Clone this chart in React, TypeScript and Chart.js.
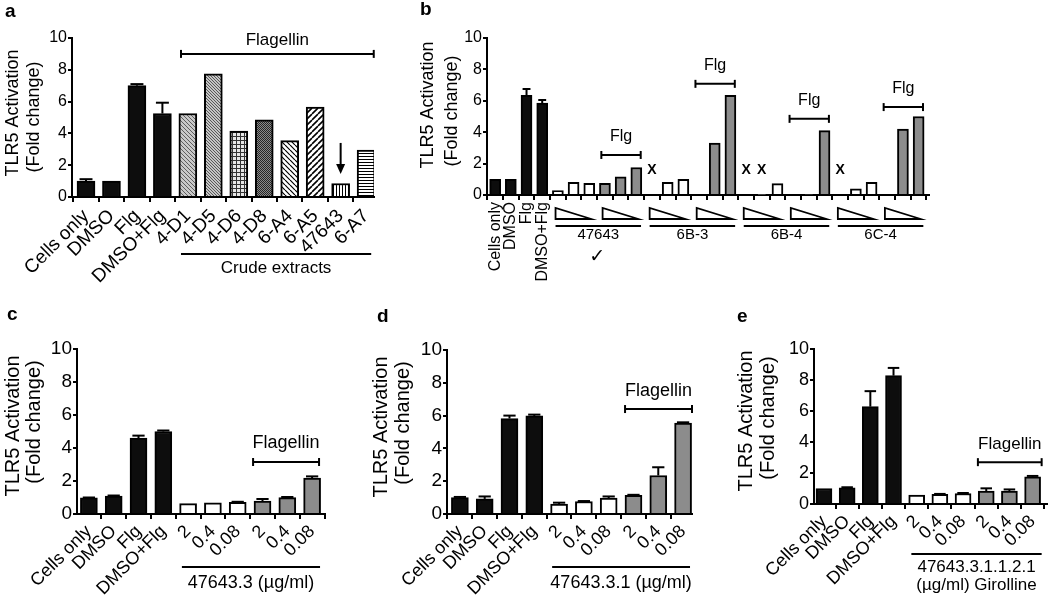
import React, { useEffect, useRef } from 'react';
import { Chart, registerables } from 'chart.js';

Chart.register(...registerables);

const FONT = 'Arial, "Liberation Sans", Helvetica, sans-serif';

// ---------- Panel a ----------
const aLabels = ['Cells only', 'DMSO', 'Flg', 'DMSO+Flg', '4-D1', '4-D5', '4-D6', '4-D8', '6-A4', '6-A5', '47643', '6-A7'];
const aValues = [1.0, 1.0, 7.0, 5.25, 5.25, 7.75, 4.15, 4.85, 3.55, 5.65, 0.85, 2.95];
const aErrors = [0.12, 0, 0.1, 0.68, 0, 0, 0, 0, 0, 0, 0, 0];
const aFills = ['black', 'black', 'black', 'black', 'diagLight', 'diagMed', 'grid', 'darkGrid', 'backslash', 'slash', 'vertical', 'horizontal'];

// ---------- Panel b ----------
const bControlLabels = ['Cells only', 'DMSO', 'Flg', 'DMSO+Flg'];
const bGroupNames = ['47643', '6B-3', '6B-4', '6C-4'];
const bValues = [
  1.0, 1.0, 6.35, 5.85,
  0.28, 0.8, 0.75, 0.75, 1.15, 1.75,
  0, 0.8, 1.0, 0, 3.3, 6.35,
  0, 0.05, 0.72, 0, 0.05, 4.1,
  0, 0.4, 0.8, 0, 4.2, 5.0,
];
const bErrors = [
  0, 0, 0.4, 0.2,
  0, 0, 0, 0, 0, 0,
  0, 0, 0, 0, 0, 0,
  0, 0, 0, 0, 0, 0,
  0, 0, 0, 0, 0, 0,
];
const bMissing = [10, 16, 17, 22];
const bFlgLevels = [2.55, 7.08, 4.85, 5.6];

// ---------- Panels c, d, e ----------
const cdeLabels = ['Cells only', 'DMSO', 'Flg', 'DMSO+Flg', '2', '0.4', '0.08', '2', '0.4', '0.08'];
const cdeFills = ['black', 'black', 'black', 'black', 'white', 'white', 'white', 'grey', 'grey', 'grey'];
const cValues = [0.98, 1.08, 4.6, 5.0, 0.63, 0.67, 0.71, 0.78, 0.99, 2.18];
const cErrors = [0.02, 0.04, 0.15, 0.06, 0, 0, 0.03, 0.13, 0.04, 0.1];
const dValues = [1.0, 0.92, 5.82, 5.98, 0.61, 0.76, 0.97, 1.14, 2.35, 5.54];
const dErrors = [0.04, 0.15, 0.18, 0.08, 0.08, 0.03, 0.1, 0.03, 0.5, 0.05];
const eValues = [1.0, 1.05, 6.28, 8.28, 0.58, 0.62, 0.68, 0.84, 0.84, 1.76];
const eErrors = [0, 0.03, 1.0, 0.5, 0, 0.03, 0.03, 0.17, 0.1, 0.05];

const TITLE_LINES = ['TLR5 Activation', '(Fold change)'];

// ---------- helpers ----------
function tile(size: number, bg: string, draw: (c: CanvasRenderingContext2D, s: number) => void) {
  const t = document.createElement('canvas');
  t.width = size;
  t.height = size;
  const c = t.getContext('2d')!;
  c.fillStyle = bg;
  c.fillRect(0, 0, size, size);
  draw(c, size);
  return c.createPattern(t, 'repeat')!;
}
const diag = (color: string, w: number, back: boolean) => (c: CanvasRenderingContext2D, s: number) => {
  c.strokeStyle = color;
  c.lineWidth = w;
  c.beginPath();
  for (const k of [-s, 0, s]) {
    if (back) {
      c.moveTo(k, 0);
      c.lineTo(k + s, s);
    } else {
      c.moveTo(k, s);
      c.lineTo(k + s, 0);
    }
  }
  c.stroke();
};
function makeFill(kind: string): any {
  switch (kind) {
    case 'black': return '#0d0d0d';
    case 'white': return '#ffffff';
    case 'grey': return '#8c8c8c';
    case 'diagLight': return tile(4, '#c8c8c8', diag('#5e5e5e', 1, true));
    case 'diagMed': return tile(3, '#c4c4c4', diag('#585858', 1, true));
    case 'grid': return tile(4, '#e6e6e6', (c, s) => { c.fillStyle = '#333'; c.fillRect(0, 0, s, 1); c.fillRect(0, 0, 1, s); });
    case 'darkGrid': return tile(2, '#8a8a8a', (c) => { c.fillStyle = '#262626'; c.fillRect(0, 0, 1, 1); c.fillRect(1, 1, 1, 1); });
    case 'backslash': return tile(5, '#ffffff', diag('#000000', 1.2, true));
    case 'slash': return tile(6, '#ffffff', diag('#000000', 1.6, false));
    case 'vertical': return tile(3, '#ffffff', (c, s) => { c.fillStyle = '#000'; c.fillRect(0, 0, 1, s); });
    case 'horizontal': return tile(3, '#ffffff', (c, s) => { c.fillStyle = '#000'; c.fillRect(0, 0, s, 1); });
    default: return '#888';
  }
}

function line(ctx: CanvasRenderingContext2D, x1: number, y1: number, x2: number, y2: number, w = 2) {
  ctx.save();
  ctx.strokeStyle = '#000';
  ctx.lineWidth = w;
  ctx.beginPath();
  ctx.moveTo(x1, y1);
  ctx.lineTo(x2, y2);
  ctx.stroke();
  ctx.restore();
}
function bracket(ctx: CanvasRenderingContext2D, x1: number, x2: number, y: number, cap = 4) {
  line(ctx, x1, y, x2, y);
  line(ctx, x1, y - cap, x1, y + cap);
  line(ctx, x2, y - cap, x2, y + cap);
}
function text(ctx: CanvasRenderingContext2D, str: string, x: number, y: number, size: number, opts: any = {}) {
  ctx.save();
  ctx.fillStyle = '#000';
  ctx.font = `${opts.bold ? 'bold ' : ''}${size}px ${opts.family || FONT}`;
  ctx.textAlign = opts.align || 'center';
  ctx.textBaseline = opts.baseline || 'middle';
  ctx.fillText(str, x, y);
  ctx.restore();
}

type Spec = {
  id: string;
  left: number; top: number; width: number; height: number;
  labels: string[]; values: number[]; errors: number[]; fills: string[];
  xMin: number; xMax: number; barThickness: number;
  padTop: number; padRight: number; yAxisWidth: number; xAxisHeight: number;
  tickSize: number; labelSize: number; rotation: number; labelPad: number;
  titleSize: number; titlePos: { x: number; y: number }[];
  panel: { text: string; x: number; y: number };
  annotate: (ctx: CanvasRenderingContext2D, chart: any) => void;
};

const bLabels = [...bControlLabels, ...bValues.slice(bControlLabels.length).map(() => '')];
const bFills = bValues.map((_, i) => (i < bControlLabels.length ? 'black' : ((i - bControlLabels.length) % 6 < 3 ? 'white' : 'grey')));

const SPECS: Spec[] = [
  {
    id: 'a', left: 0, top: 0, width: 410, height: 300,
    labels: aLabels, values: aValues, errors: aErrors, fills: aFills,
    xMin: -0.55, xMax: 11.31, barThickness: 18,
    padTop: 38, padRight: 36, yAxisWidth: 72, xAxisHeight: 103,
    tickSize: 16, labelSize: 19, rotation: 45, labelPad: 3,
    titleSize: 18, titlePos: [{ x: 13, y: 113 }, { x: 34, y: 117 }],
    panel: { text: 'a', x: 5, y: 17 },
    annotate: (ctx, chart) => {
      const xs = chart.scales.x, ys = chart.scales.y, bot = chart.chartArea.bottom;
      const x1 = xs.getPixelForValue(3.73), x2 = xs.getPixelForValue(11.3);
      bracket(ctx, x1, x2, ys.getPixelForValue(9.0), 4);
      text(ctx, 'Flagellin', (x1 + x2) / 2, ys.getPixelForValue(9.87), 17);
      const u2 = xs.getPixelForValue(11.2);
      line(ctx, x1, bot + 57, u2, bot + 57);
      text(ctx, 'Crude extracts', (x1 + u2) / 2, bot + 71, 17);
      const ax = xs.getPixelForValue(10);
      const tip = ys.getPixelForValue(1.45);
      line(ctx, ax, ys.getPixelForValue(3.4), ax, tip - 6);
      ctx.save();
      ctx.fillStyle = '#000';
      ctx.beginPath();
      ctx.moveTo(ax - 4.5, tip - 10);
      ctx.lineTo(ax + 4.5, tip - 10);
      ctx.lineTo(ax, tip);
      ctx.closePath();
      ctx.fill();
      ctx.restore();
    },
  },
  {
    id: 'b', left: 415, top: 0, width: 525, height: 300,
    labels: bLabels, values: bValues, errors: bErrors, fills: bFills,
    xMin: -0.52, xMax: 27.68, barThickness: 11,
    padTop: 38, padRight: 7, yAxisWidth: 72, xAxisHeight: 105,
    tickSize: 16, labelSize: 16, rotation: 90, labelPad: 2,
    titleSize: 18, titlePos: [{ x: 13, y: 105 }, { x: 37, y: 111 }],
    panel: { text: 'b', x: 5, y: 15 },
    annotate: (ctx, chart) => {
      const xs = chart.scales.x, ys = chart.scales.y, bot = chart.chartArea.bottom;
      const px = (v: number) => xs.getPixelForValue(v);
      bGroupNames.forEach((name, g) => {
        const s0 = bControlLabels.length + g * 6;
        for (let h = 0; h < 2; h++) {
          const s = s0 + 3 * h;
          const t1 = px(s - 0.15), t2 = px(s + 2.13);
          ctx.save();
          ctx.strokeStyle = '#000';
          ctx.lineWidth = 1.8;
          ctx.lineJoin = 'miter';
          ctx.beginPath();
          ctx.moveTo(t1, bot + 13);
          ctx.lineTo(t1, bot + 24);
          ctx.lineTo(t2, bot + 24);
          ctx.closePath();
          ctx.stroke();
          ctx.restore();
        }
        const u1 = px(s0 - 0.15), u2 = px(s0 + 5.3);
        line(ctx, u1, bot + 31, u2, bot + 31);
        text(ctx, name, (u1 + u2) / 2, bot + 40, 15);
        const f1 = px(s0 + 2.77), f2 = px(s0 + 5.28);
        const fy = ys.getPixelForValue(bFlgLevels[g]);
        bracket(ctx, f1, f2, fy, 4);
        text(ctx, 'Flg', (f1 + f2) / 2, fy - 18, 16);
      });
      bMissing.forEach((i) => text(ctx, 'X', px(i), ys.getPixelForValue(1.6), 14, { bold: true }));
      text(ctx, '\u2713', px(bControlLabels.length + 2.5), bot + 62, 19, { family: '"DejaVu Sans", sans-serif' });
    },
  },
  {
    id: 'c', left: 0, top: 300, width: 360, height: 299,
    labels: cdeLabels, values: cValues, errors: cErrors, fills: cdeFills,
    xMin: -0.48, xMax: 9.52, barThickness: 17,
    padTop: 49, padRight: 35, yAxisWidth: 77, xAxisHeight: 85,
    tickSize: 19, labelSize: 18, rotation: 45, labelPad: 2,
    titleSize: 20, titlePos: [{ x: 13.5, y: 126 }, { x: 34.5, y: 122 }],
    panel: { text: 'c', x: 7, y: 20 },
    annotate: (ctx, chart) => {
      const xs = chart.scales.x, ys = chart.scales.y, bot = chart.chartArea.bottom;
      const x1 = xs.getPixelForValue(6.62), x2 = xs.getPixelForValue(9.28);
      bracket(ctx, x1, x2, ys.getPixelForValue(3.15), 4);
      text(ctx, 'Flagellin', (x1 + x2) / 2, ys.getPixelForValue(4.3), 18);
      const u1 = xs.getPixelForValue(3.75), u2 = xs.getPixelForValue(9.32);
      line(ctx, u1, bot + 53, u2, bot + 53);
      text(ctx, '47643.3 (\u00b5g/ml)', (u1 + u2) / 2, bot + 69, 18);
    },
  },
  {
    id: 'd', left: 360, top: 300, width: 360, height: 299,
    labels: cdeLabels, values: dValues, errors: dErrors, fills: cdeFills,
    xMin: -0.52, xMax: 9.36, barThickness: 17,
    padTop: 50, padRight: 28, yAxisWidth: 87, xAxisHeight: 85,
    tickSize: 19, labelSize: 18, rotation: 45, labelPad: 2,
    titleSize: 20, titlePos: [{ x: 21.5, y: 127 }, { x: 43.5, y: 123 }],
    panel: { text: 'd', x: 17, y: 22 },
    annotate: (ctx, chart) => {
      const xs = chart.scales.x, ys = chart.scales.y, bot = chart.chartArea.bottom;
      const x1 = xs.getPixelForValue(6.66), x2 = xs.getPixelForValue(9.36);
      bracket(ctx, x1, x2, ys.getPixelForValue(6.4), 4);
      text(ctx, 'Flagellin', (x1 + x2) / 2, ys.getPixelForValue(7.5), 18);
      const u1 = xs.getPixelForValue(3.72), u2 = xs.getPixelForValue(9.28);
      line(ctx, u1, bot + 53, u2, bot + 53);
      text(ctx, '47643.3.1 (\u00b5g/ml)', (u1 + u2) / 2, bot + 69, 18);
    },
  },
  {
    id: 'e', left: 720, top: 300, width: 330, height: 299,
    labels: cdeLabels, values: eValues, errors: eErrors, fills: cdeFills,
    xMin: -0.43, xMax: 9.6, barThickness: 16,
    padTop: 49, padRight: 2, yAxisWidth: 94, xAxisHeight: 95,
    tickSize: 18, labelSize: 18, rotation: 45, labelPad: 2,
    titleSize: 20, titlePos: [{ x: 26.5, y: 121 }, { x: 48.5, y: 118 }],
    panel: { text: 'e', x: 17, y: 22 },
    annotate: (ctx, chart) => {
      const xs = chart.scales.x, ys = chart.scales.y, bot = chart.chartArea.bottom;
      const x1 = xs.getPixelForValue(6.64), x2 = xs.getPixelForValue(9.39);
      bracket(ctx, x1, x2, ys.getPixelForValue(2.7), 4);
      text(ctx, 'Flagellin', (x1 + x2) / 2, ys.getPixelForValue(3.87), 17);
      const u1 = xs.getPixelForValue(3.77), u2 = xs.getPixelForValue(9.39);
      line(ctx, u1, bot + 50, u2, bot + 50);
      text(ctx, '47643.3.1.1.2.1', (u1 + u2) / 2, bot + 63, 17);
      text(ctx, '(\u00b5g/ml) Girolline', (u1 + u2) / 2, bot + 81, 17);
    },
  },
];

function buildConfig(spec: Spec): any {
  const axisStyle = {
    grid: { display: true, drawOnChartArea: false, drawTicks: true, tickLength: 5, color: '#000', lineWidth: 2 },
    border: { display: true, color: '#000', width: 2 },
  };
  const overlay = {
    id: 'overlay-' + spec.id,
    afterDatasetsDraw(chart: any) {
      const ctx = chart.ctx as CanvasRenderingContext2D;
      const ys = chart.scales.y;
      const meta = chart.getDatasetMeta(0);
      meta.data.forEach((bar: any, i: number) => {
        const e = spec.errors[i];
        const v = spec.values[i];
        if (!e || v == null) return;
        const yTop = ys.getPixelForValue(v + e);
        const cap = spec.barThickness * 0.36;
        line(ctx, bar.x, bar.y, bar.x, yTop, 2);
        line(ctx, bar.x - cap, yTop, bar.x + cap, yTop, 2);
      });
    },
    afterDraw(chart: any) {
      const ctx = chart.ctx as CanvasRenderingContext2D;
      spec.titlePos.forEach((p, i) => {
        ctx.save();
        ctx.translate(p.x, p.y);
        ctx.rotate(-Math.PI / 2);
        ctx.fillStyle = '#000';
        ctx.font = `${spec.titleSize}px ${FONT}`;
        ctx.textAlign = 'center';
        ctx.textBaseline = 'middle';
        ctx.fillText(TITLE_LINES[i], 0, 0);
        ctx.restore();
      });
      text(ctx, spec.panel.text, spec.panel.x, spec.panel.y, 19, { bold: true, align: 'left', baseline: 'alphabetic' });
      spec.annotate(ctx, chart);
    },
  };
  return {
    type: 'bar',
    data: {
      datasets: [
        {
          data: spec.values.map((v, i) => ({ x: i, y: v })),
          backgroundColor: spec.fills.map(makeFill),
          borderColor: '#000',
          borderWidth: 2,
          borderSkipped: 'start',
          barThickness: spec.barThickness,
        },
      ],
    },
    options: {
      responsive: false,
      animation: false,
      devicePixelRatio: 1,
      layout: { padding: { left: 0, top: spec.padTop, right: spec.padRight, bottom: 0 } },
      plugins: { legend: { display: false }, tooltip: { enabled: false }, title: { display: false } },
      scales: {
        x: {
          type: 'linear',
          min: spec.xMin,
          max: spec.xMax,
          offset: false,
          z: 1,
          afterBuildTicks: (s: any) => { s.ticks = spec.labels.map((_, i) => ({ value: i })); },
          afterFit: (s: any) => { s.height = spec.xAxisHeight; },
          ticks: {
            autoSkip: false,
            minRotation: spec.rotation,
            maxRotation: spec.rotation,
            labelOffset: 0,
            padding: spec.labelPad,
            color: '#000',
            font: { family: FONT, size: spec.labelSize },
            callback: (v: any) => spec.labels[Math.round(Number(v))] ?? '',
          },
          ...axisStyle,
        },
        y: {
          min: 0,
          max: 10,
          afterFit: (s: any) => { s.width = spec.yAxisWidth; },
          ticks: { stepSize: 2, padding: 1, color: '#000', font: { family: FONT, size: spec.tickSize } },
          grid: { ...axisStyle.grid, tickLength: 4 },
          border: axisStyle.border,
        },
      },
    },
    plugins: [overlay],
  };
}

function Panel({ spec }: { spec: Spec }) {
  const ref = useRef<HTMLCanvasElement>(null);
  useEffect(() => {
    const canvas = ref.current;
    if (!canvas) return;
    const chart = new Chart(canvas, buildConfig(spec));
    return () => chart.destroy();
  }, [spec]);
  return (
    <canvas
      ref={ref}
      width={spec.width}
      height={spec.height}
      style={{ position: 'absolute', left: spec.left, top: spec.top, width: spec.width, height: spec.height }}
    />
  );
}

export default function App() {
  return (
    <div style={{ position: 'absolute', left: 0, top: 0, width: 1050, height: 599, background: '#fff', overflow: 'hidden' }}>
      {SPECS.map((s) => (
        <Panel key={s.id} spec={s} />
      ))}
    </div>
  );
}
